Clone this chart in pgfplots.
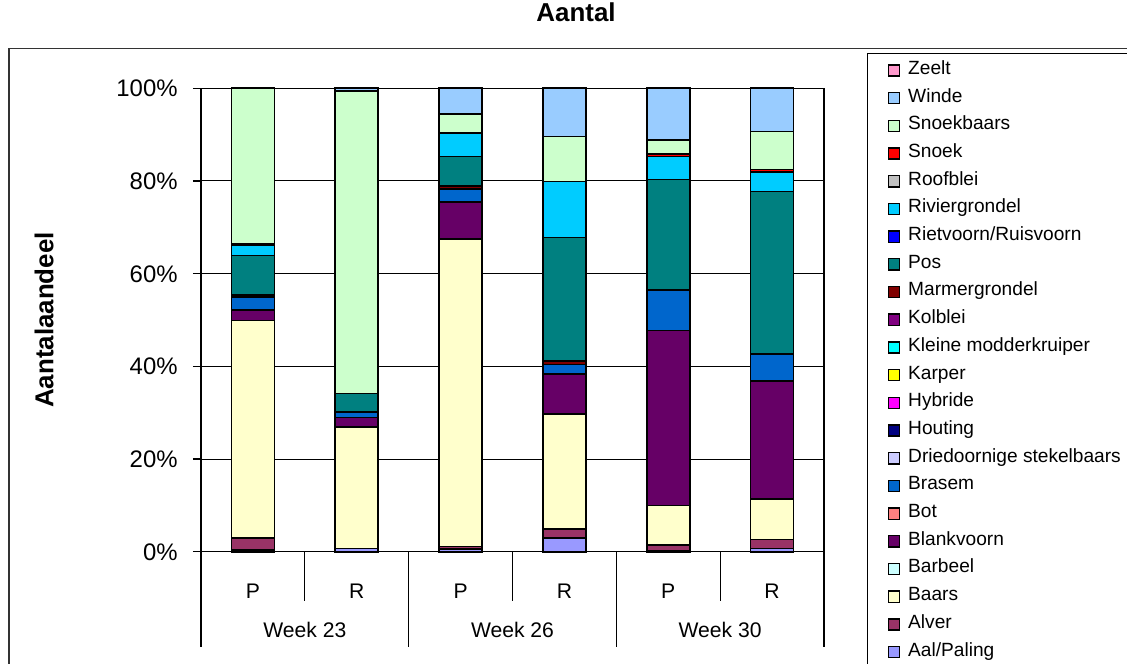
\documentclass[border=0pt]{standalone}
\usepackage{fontspec}
\setmainfont{Liberation Sans}
\usepackage{pgfplots}
\usepackage{pgfplotstable}
\pgfplotsset{compat=1.18}
\definecolor{cAal}{HTML}{9999FF}
\definecolor{cAlver}{HTML}{993366}
\definecolor{cBaars}{HTML}{FFFFCC}
\definecolor{cBarbeel}{HTML}{CCFFFF}
\definecolor{cBlankvoorn}{HTML}{660066}
\definecolor{cBot}{HTML}{FF8080}
\definecolor{cBrasem}{HTML}{0066CC}
\definecolor{cDried}{HTML}{CCCCFF}
\definecolor{cHouting}{HTML}{000080}
\definecolor{cHybride}{HTML}{FF00FF}
\definecolor{cKarper}{HTML}{FFFF00}
\definecolor{cKleine}{HTML}{00FFFF}
\definecolor{cKolblei}{HTML}{800080}
\definecolor{cMarmer}{HTML}{800000}
\definecolor{cPos}{HTML}{008080}
\definecolor{cRietvoorn}{HTML}{0000FF}
\definecolor{cRivier}{HTML}{00CCFF}
\definecolor{cRoofblei}{HTML}{C0C0C0}
\definecolor{cSnoek}{HTML}{FF0000}
\definecolor{cSnoekbaars}{HTML}{CCFFCC}
\definecolor{cWinde}{HTML}{99CCFF}
\definecolor{cZeelt}{HTML}{FF99CC}

\pgfplotstableread{
x   Aal Alver Baars Barbeel Blankvoorn Bot Brasem Dried Houting Hybride Karper Kleine Kolblei Marmer Pos  Rietvoorn Rivier Roofblei Snoek Snoekbaars Winde Zeelt
0.5 0.4 2.5   47.0  0       2.3        0   2.7    0     0       0       0      0      0       0.5    8.5  0         2.2    0        0.3   33.6       0.0   0
1.5 0.7 0.0   26.2  0       2.1        0   1.0    0     0       0       0      0      0       0.2    3.9  0         0.0    0        0.0   65.3       0.6   0
2.5 0.6 0.5   66.4  0       8.0        0   2.8    0     0       0       0      0      0       0.6    6.4  0         5.0    0        0.0   4.1        5.6   0
3.5 3.0 1.9   24.8  0       8.6        0   2.1    0     0       0       0      0      0       0.7    26.7 0         12.1   0        0.0   9.7        10.4  0
4.5 0.3 1.2   8.5   0       37.7       0   8.8    0     0       0       0      0      0       0.0    23.8 0         5.0    0        0.5   3.0        11.2  0
5.5 0.7 1.9   8.8   0       25.4       0   5.8    0     0       0       0      0      0       0.0    35.1 0         4.2    0        0.6   8.2        9.3   0
}\data

\begin{document}
\begin{tikzpicture}
\useasboundingbox (0,0) rectangle (563.5bp,332bp);
\fill[white] (0,0) rectangle (563.5bp,332bp);
\begin{axis}[
  at={(100.5bp,56.15bp)}, anchor=south west,
  scale only axis, width=311.5bp, height=231.7bp,
  xmin=0, xmax=6, ymin=0, ymax=100,
  ybar stacked, bar width=0.414,
  clip=false,
  axis line style={black, line width=0.6bp},
  ymajorgrids, major grid style={black, line width=0.5bp},
  ytick={0,20,40,60,80,100},
  yticklabels={0\%,20\%,40\%,60\%,80\%,100\%},
  ytick pos=left, tick align=outside, major tick length=4bp,
  ytick style={black, line width=0.6bp},
  yticklabel style={font=\fontsize{12}{14}\selectfont, anchor=east, inner sep=0pt, text height=8.6bp, text depth=0pt, xshift=-7.5bp},
  xtick={0.5,1.5,2.5,3.5,4.5,5.5},
  xticklabels={P,R,P,R,P,R},
  xtick style={draw=none},
  xticklabel style={font=\fontsize{10.6}{12}\selectfont, anchor=base, inner sep=0pt, yshift=-19.45bp},
  ylabel={\textbf{Aantalaandeel}},
  ylabel style={font=\fontsize{13}{15}\selectfont, at={(axis description cs:-0.252,0.5)}, rotate=0, anchor=center},
  title={\textbf{Aantal}},
  title style={font=\fontsize{13}{15}\selectfont, at={(axis description cs:0.602,1.1185)}, anchor=base, inner sep=0pt},
  legend image code/.code={\draw[#1, draw=black, line width=0.7bp] (0bp,-2.8bp) rectangle (5.6bp,2.8bp);},
  reverse legend,
  legend style={draw=none, fill=none, inner sep=0pt, at={(1.1018,1.0693)}, anchor=north west,
    font=\fontsize{9.6}{11}\selectfont, row sep=0pt,
    nodes={inner sep=0pt, text height=8.9bp, text depth=4.95bp},
    /tikz/every odd column/.append style={column sep=3.9bp}},
  legend cell align=left,
  every axis plot/.append style={draw=black, line width=0.8bp},
]
\addplot[fill=cAal] table[x=x,y=Aal]{\data}; \addlegendentry{Aal/Paling}
\addplot[fill=cAlver] table[x=x,y=Alver]{\data}; \addlegendentry{Alver}
\addplot[fill=cBaars] table[x=x,y=Baars]{\data}; \addlegendentry{Baars}
\addplot[fill=cBarbeel] table[x=x,y=Barbeel]{\data}; \addlegendentry{Barbeel}
\addplot[fill=cBlankvoorn] table[x=x,y=Blankvoorn]{\data}; \addlegendentry{Blankvoorn}
\addplot[fill=cBot] table[x=x,y=Bot]{\data}; \addlegendentry{Bot}
\addplot[fill=cBrasem] table[x=x,y=Brasem]{\data}; \addlegendentry{Brasem}
\addplot[fill=cDried] table[x=x,y=Dried]{\data}; \addlegendentry{Driedoornige stekelbaars}
\addplot[fill=cHouting] table[x=x,y=Houting]{\data}; \addlegendentry{Houting}
\addplot[fill=cHybride] table[x=x,y=Hybride]{\data}; \addlegendentry{Hybride}
\addplot[fill=cKarper] table[x=x,y=Karper]{\data}; \addlegendentry{Karper}
\addplot[fill=cKleine] table[x=x,y=Kleine]{\data}; \addlegendentry{Kleine modderkruiper}
\addplot[fill=cKolblei] table[x=x,y=Kolblei]{\data}; \addlegendentry{Kolblei}
\addplot[fill=cMarmer] table[x=x,y=Marmer]{\data}; \addlegendentry{Marmergrondel}
\addplot[fill=cPos] table[x=x,y=Pos]{\data}; \addlegendentry{Pos}
\addplot[fill=cRietvoorn] table[x=x,y=Rietvoorn]{\data}; \addlegendentry{Rietvoorn/Ruisvoorn}
\addplot[fill=cRivier] table[x=x,y=Rivier]{\data}; \addlegendentry{Riviergrondel}
\addplot[fill=cRoofblei] table[x=x,y=Roofblei]{\data}; \addlegendentry{Roofblei}
\addplot[fill=cSnoek] table[x=x,y=Snoek]{\data}; \addlegendentry{Snoek}
\addplot[fill=cSnoekbaars] table[x=x,y=Snoekbaars]{\data}; \addlegendentry{Snoekbaars}
\addplot[fill=cWinde] table[x=x,y=Winde]{\data}; \addlegendentry{Winde}
\addplot[fill=cZeelt] table[x=x,y=Zeelt]{\data}; \addlegendentry{Zeelt}
% category separators
\draw[black, line width=0.6bp] (axis cs:1,0) -- ++(0,-24.5bp);
\draw[black, line width=0.6bp] (axis cs:3,0) -- ++(0,-24.5bp);
\draw[black, line width=0.6bp] (axis cs:5,0) -- ++(0,-24.5bp);
\draw[black, line width=0.6bp] (axis cs:0,0) -- ++(0,-47.5bp);
\draw[black, line width=0.6bp] (axis cs:2,0) -- ++(0,-47.5bp);
\draw[black, line width=0.6bp] (axis cs:4,0) -- ++(0,-47.5bp);
\draw[black, line width=0.6bp] (axis cs:6,0) -- ++(0,-47.5bp);
\node[font=\fontsize{10.6}{12}\selectfont, anchor=base, inner sep=0pt, yshift=-42.95bp] at (axis cs:1,0) {Week 23};
\node[font=\fontsize{10.6}{12}\selectfont, anchor=base, inner sep=0pt, yshift=-42.95bp] at (axis cs:3,0) {Week 26};
\node[font=\fontsize{10.6}{12}\selectfont, anchor=base, inner sep=0pt, yshift=-42.95bp] at (axis cs:5,0) {Week 30};
\end{axis}
% chart area frame and legend frame
\draw[black!80, line width=0.75bp] (4.5bp,-10bp) -- (4.5bp,307.65bp) -- (600bp,307.65bp);
\draw[black, line width=0.5bp] (433.5bp,-10bp) -- (433.5bp,305bp) -- (600bp,305bp);
\end{tikzpicture}
\end{document}
